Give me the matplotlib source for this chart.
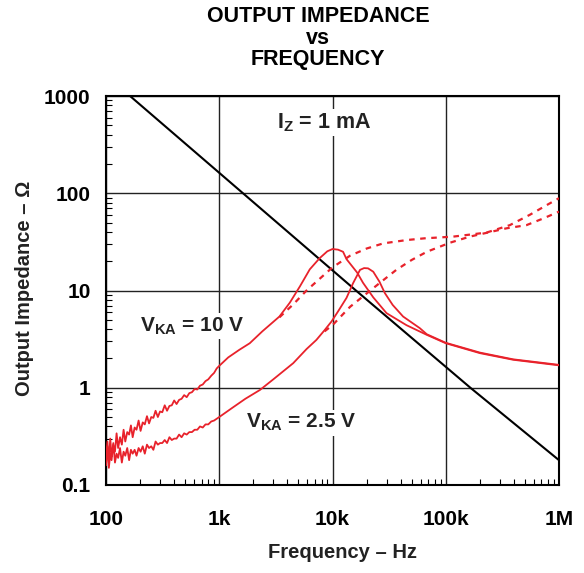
import numpy as np
import matplotlib
matplotlib.use("Agg")
import matplotlib.pyplot as plt
from matplotlib.ticker import LogLocator, NullFormatter, FixedLocator

plt.rcParams['font.family'] = ['Liberation Sans', 'DejaVu Sans']
plt.rcParams['mathtext.fontset'] = 'custom'
plt.rcParams['mathtext.bf'] = 'Liberation Sans:bold'
plt.rcParams['mathtext.rm'] = 'Liberation Sans:bold'

RED = '#e8222b'

# capacitor reference line (black)
f_cap = [163, 1620, 16100, 165000, 1000000]
z_cap = [1000, 100, 10, 1, 0.18]

# VKA = 10 V, solid trace
f_10 = [100, 103, 106, 109, 112, 116, 120, 124, 128, 133, 138, 143, 148, 154, 160,
        166, 172, 179, 186, 194, 202, 211, 220, 230, 240, 251, 262, 274, 287, 300,
        314, 330, 346, 363, 381, 400, 420, 442, 465, 490, 516, 544, 574, 606, 640,
        676, 715, 756, 800, 850, 900, 950, 1000, 1200, 1500, 1860, 2400, 3400, 4200,
        5150, 6300, 7700, 9000, 10000, 11200, 12400, 13300, 16500, 18600, 22900,
        30000, 45000, 68000, 100000, 200000, 394000, 1000000]
z_10 = [0.19, 0.28, 0.17, 0.30, 0.20, 0.26, 0.22, 0.34, 0.24, 0.31, 0.26, 0.37, 0.28, 0.35, 0.33,
        0.41, 0.31, 0.39, 0.37, 0.46, 0.36, 0.44, 0.42, 0.51, 0.43, 0.50, 0.49, 0.58, 0.50, 0.57,
        0.56, 0.66, 0.58, 0.65, 0.66, 0.74, 0.68, 0.75, 0.77, 0.84, 0.80, 0.88, 0.90, 0.97, 0.96,
        1.05, 1.08, 1.17, 1.22, 1.33, 1.42, 1.58, 1.68, 2.05, 2.45, 2.87, 3.8, 5.4, 7.5,
        11.0, 16.5, 21.5, 25.3, 26.7, 26.3, 25.0, 21.0, 15.3, 12.0, 8.5,
        5.85, 4.4, 3.5, 2.87, 2.27, 1.94, 1.70]

# VKA = 2.5 V, solid trace
f_25 = [100, 103, 106, 109, 112, 116, 120, 124, 128, 133, 138, 143, 148, 154, 160,
        166, 172, 179, 186, 194, 202, 211, 220, 230, 240, 251, 262, 274, 287, 300,
        314, 330, 346, 363, 381, 400, 420, 442, 465, 490, 516, 544, 574, 606, 640,
        676, 715, 756, 800, 850, 900, 950, 1000, 1300, 1700, 2290, 3000, 4500, 5900,
        7200, 8500, 9800, 11200, 13300, 15200, 17500, 19000, 20600, 22900, 26000,
        29000, 34000, 42000, 59000, 68000, 100000, 200000, 394000, 1000000]
z_25 = [0.16, 0.25, 0.15, 0.21, 0.18, 0.27, 0.17, 0.21, 0.19, 0.24, 0.17, 0.22, 0.20, 0.24, 0.18,
        0.23, 0.21, 0.23, 0.20, 0.24, 0.22, 0.25, 0.21, 0.26, 0.24, 0.25, 0.23, 0.28, 0.26, 0.27,
        0.27, 0.29, 0.27, 0.31, 0.29, 0.30, 0.30, 0.33, 0.31, 0.34, 0.33, 0.35, 0.35, 0.37, 0.37,
        0.40, 0.39, 0.42, 0.42, 0.45, 0.46, 0.48, 0.50, 0.62, 0.77, 0.95, 1.22, 1.79, 2.5,
        3.1, 3.9, 4.8, 6.1, 8.4, 11.9, 16.3, 17.0, 16.9, 15.6, 12.3,
        9.4, 7.1, 5.4, 4.1, 3.55, 2.9, 2.3, 1.96, 1.72]

# dashed traces
f_10d = [3400, 4500, 5900, 7200, 10000, 14300, 20000, 28000, 45000, 65000,
         116000, 229000, 368000, 552000, 802000, 1000000]
z_10d = [5.3, 7.2, 10.0, 12.3, 17.3, 22.8, 27.0, 30.5, 33.0, 34.4,
         35.8, 39.4, 47.0, 60.0, 77.0, 89.0]
f_25d = [8500, 10000, 14300, 18600, 26000, 36600, 50000, 68000, 109000, 163000,
         344000, 516000, 724000, 1000000]
z_25d = [3.8, 4.4, 6.8, 8.7, 11.9, 16.3, 20.6, 25.0, 31.0, 35.8,
         43.6, 47.0, 55.0, 64.7]

x_ticks = [100, 1000, 10000, 100000, 1000000]
x_labels = ['100', '1k', '10k', '100k', '1M']
y_ticks = [0.1, 1, 10, 100, 1000]
y_labels = ['0.1', '1', '10', '100', '1000']

fig = plt.figure(figsize=(5.84, 5.73), dpi=100)
ax = fig.add_axes([106 / 584, 1 - 485 / 573, 453 / 584, 389 / 573])

ax.plot(f_cap, z_cap, color='black', lw=1.5, zorder=3)
ax.plot(f_10, z_10, color=RED, lw=1.3, zorder=3)
ax.plot(f_25, z_25, color=RED, lw=1.3, zorder=3)
ax.plot(f_10d, z_10d, color=RED, lw=1.6, ls=(0, (2.5, 2.5)), zorder=3)
ax.plot(f_25d, z_25d, color=RED, lw=1.6, ls=(0, (2.5, 2.5)), zorder=3)

ax.set_xscale('log')
ax.set_yscale('log')
ax.set_xlim(100, 1e6)
ax.set_ylim(0.1, 1000)
ax.xaxis.set_major_locator(FixedLocator(x_ticks))
ax.yaxis.set_major_locator(FixedLocator(y_ticks))
ax.set_xticklabels(x_labels)
ax.set_yticklabels(y_labels)
ax.xaxis.set_minor_locator(LogLocator(base=10, subs=np.arange(2, 10)))
ax.yaxis.set_minor_locator(LogLocator(base=10, subs=np.arange(2, 10)))
ax.xaxis.set_minor_formatter(NullFormatter())
ax.yaxis.set_minor_formatter(NullFormatter())
ax.tick_params(which='major', length=0, labelsize=15)
ax.tick_params(axis='x', which='major', pad=18)
ax.tick_params(axis='y', which='major', pad=11)
ax.tick_params(which='minor', direction='in', length=4, width=0.8, top=False, right=False)
for lab in ax.get_xticklabels() + ax.get_yticklabels():
    lab.set_fontweight('bold')
ax.grid(True, which='major', color='#222222', lw=1.0, zorder=1)
ax.set_axisbelow(True)
for s in ax.spines.values():
    s.set_linewidth(1.5)

box = dict(facecolor='white', edgecolor='none', pad=1.5)
ax.text(3230, 463, r'I$_\mathbf{Z}$ = 1 mA', fontsize=15.5, fontweight='bold',
        color='#222222', ha='left', va='baseline', bbox=box, zorder=2)
ax.text(200, 3.79, r'V$_\mathbf{KA}$ = 10 V', fontsize=15, fontweight='bold',
        color='#222222', ha='left', va='baseline', bbox=box, zorder=2)
ax.text(1710, 0.387, r'V$_\mathbf{KA}$ = 2.5 V', fontsize=15, fontweight='bold',
        color='#222222', ha='left', va='baseline', bbox=box, zorder=2)

fig.text(318 / 584, 1 - 38 / 573, 'OUTPUT IMPEDANCE\nvs\nFREQUENCY', fontsize=15.5,
         fontweight='bold', ha='center', va='center', linespacing=1.05)
fig.text(342 / 584, 1 - 553 / 573, 'Frequency – Hz', fontsize=14.5, fontweight='bold',
         color='#222222', ha='center', va='center')
fig.text(25 / 584, 1 - 288 / 573, 'Output Impedance – Ω', fontsize=14.5, fontweight='bold',
         color='#222222', ha='center', va='center', rotation=90)

fig.savefig('out.png', dpi=100)
